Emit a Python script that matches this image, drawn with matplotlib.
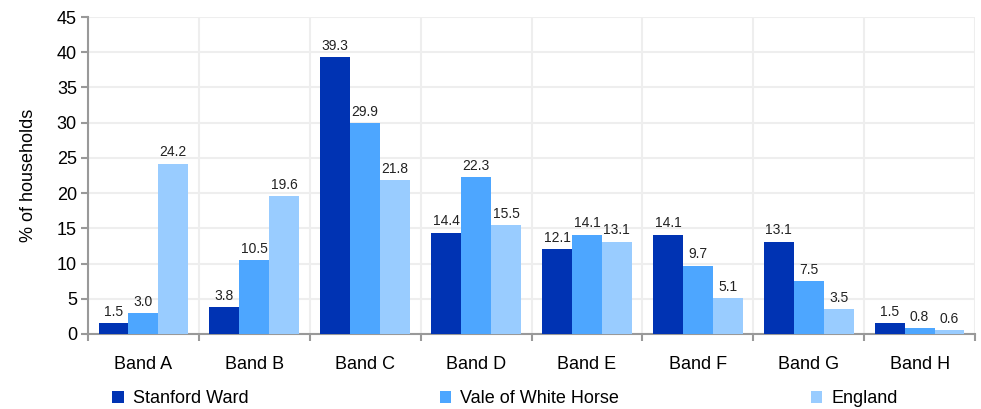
import numpy as np
import matplotlib.pyplot as plt

plt.rcParams['font.family'] = ['Liberation Sans', 'DejaVu Sans']

bands = ['Band A', 'Band B', 'Band C', 'Band D', 'Band E', 'Band F', 'Band G', 'Band H']
stanford = [1.5, 3.8, 39.3, 14.4, 12.1, 14.1, 13.1, 1.5]
vale = [3.0, 10.5, 29.9, 22.3, 14.1, 9.7, 7.5, 0.8]
england = [24.2, 19.6, 21.8, 15.5, 13.1, 5.1, 3.5, 0.6]
series_names = ['Stanford Ward', 'Vale of White Horse', 'England']
colors = ['#0033b3', '#4da6ff', '#99ccff']

fig = plt.figure(figsize=(9.81, 4.09), dpi=100)
ax = fig.add_axes([88/981, 1-334/409, 887/981, 317/409])

x = np.arange(len(bands))
w = 0.27
bars = []
for i, (vals, c, name) in enumerate(zip([stanford, vale, england], colors, series_names)):
    b = ax.bar(x + (i - 1) * w, vals, w, color=c, label=name, zorder=3)
    bars.append(b)
    for xi, v in zip(x + (i - 1) * w, vals):
        ax.text(xi, v + 0.6, '%.1f' % v, ha='center', va='bottom', fontsize=10, color='#222222', zorder=4)

ax.set_xlim(-0.5, len(bands) - 0.5)
ax.set_ylim(0, 45)
ax.set_yticks(np.arange(0, 46, 5))
ax.set_xticks(x)
ax.set_xticklabels(bands)
ax.set_xticks(np.arange(-0.5, len(bands)), minor=True)
ax.tick_params(axis='x', which='major', length=0, pad=16, labelsize=13)
ax.tick_params(axis='x', which='minor', length=5, color='#999999', width=1.5)
ax.tick_params(axis='y', length=5, color='#999999', width=1.5, labelsize=13, pad=3)

ax.grid(True, axis='y', color='#eeeeee', linewidth=1.5, zorder=0)
ax.grid(True, axis='x', which='minor', color='#eeeeee', linewidth=1.5, zorder=0)
for s in ['top', 'right']:
    ax.spines[s].set_visible(False)
for s in ['left', 'bottom']:
    ax.spines[s].set_color('#999999')
    ax.spines[s].set_linewidth(1.5)

ax.set_ylabel('% of households', fontsize=13, labelpad=14)

fig.legend(handles=bars, labels=series_names, loc='lower left',
           bbox_to_anchor=(110/981, 0.0), ncol=3, columnspacing=10.6,
           frameon=False, fontsize=13, handlelength=0.65, handleheight=0.65,
           handletextpad=0.5, borderaxespad=0.0, borderpad=0.1)

fig.savefig('out.png', dpi=100)
